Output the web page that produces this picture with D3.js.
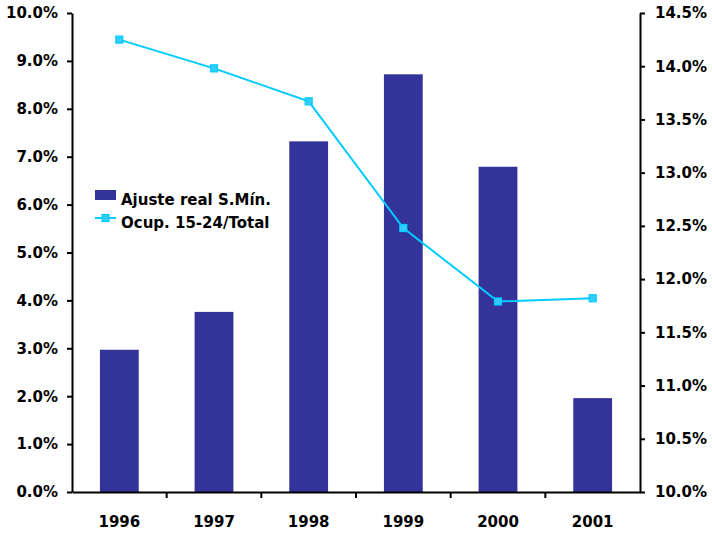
<!DOCTYPE html>
<html>
<head>
<meta charset="utf-8">
<script src="https://cdn.jsdelivr.net/npm/d3@7"></script>
<style>
  html, body { margin: 0; padding: 0; background: #fff; }
  svg text { font-family: "DejaVu Sans", Verdana, sans-serif; font-weight: bold; fill: #000; }
</style>
</head>
<body>
<svg id="chart" width="712" height="534"></svg>
<script>
// Years on the horizontal axis
const years = ["1996", "1997", "1998", "1999", "2000", "2001"];
// Real minimum-wage adjustment (%), left axis
const ajusteReal = [2.97, 3.76, 7.32, 8.72, 6.79, 1.96];
// Employed aged 15-24 as share of total employment (%), right axis
const ocupJoven = [14.25, 13.98, 13.67, 12.48, 11.79, 11.82];
// Tick values
const leftTicks = [0, 1, 2, 3, 4, 5, 6, 7, 8, 9, 10];
const rightTicks = [10, 10.5, 11, 11.5, 12, 12.5, 13, 13.5, 14, 14.5];

const svg = d3.select("#chart");
const m = { left: 72, right: 640, top: 13, bottom: 492 };
const fs = 15;

const x = d3.scaleBand().domain(years).range([m.left, m.right]).paddingInner(0).paddingOuter(0);
const yL = d3.scaleLinear().domain([0, 10]).range([m.bottom, m.top]);
const yR = d3.scaleLinear().domain([10, 14.5]).range([m.bottom, m.top]);

const barColor = "#333399";
const lineColor = "#00CCFF";

// Bars
const barW = x.bandwidth() * 0.41;
svg.append("g").selectAll("rect")
  .data(years)
  .join("rect")
  .attr("x", (d) => x(d) + (x.bandwidth() - barW) / 2)
  .attr("y", (d, i) => yL(ajusteReal[i]))
  .attr("width", barW)
  .attr("height", (d, i) => yL(0) - yL(ajusteReal[i]))
  .attr("fill", barColor);

// Left axis
const axL = svg.append("g").attr("transform", `translate(${m.left},0)`)
  .call(d3.axisLeft(yL).tickValues(leftTicks).tickSize(5).tickSizeOuter(0)
    .tickFormat((d) => d.toFixed(1) + "%"));
// Right axis
const axR = svg.append("g").attr("transform", `translate(${m.right},0)`)
  .call(d3.axisRight(yR).tickValues(rightTicks).tickSize(5).tickSizeOuter(0)
    .tickFormat((d) => d.toFixed(1) + "%"));
// Bottom axis: ticks sit on category boundaries
const axB = svg.append("g").attr("transform", `translate(0,${m.bottom})`)
  .call(d3.axisBottom(x).tickSize(0).tickPadding(24));
axB.selectAll(".tick")
  .filter((d, i) => i < years.length - 1)
  .append("line")
  .attr("x1", x.bandwidth() / 2).attr("x2", x.bandwidth() / 2)
  .attr("y1", 0).attr("y2", 6);

[axL, axR, axB].forEach((g) => {
  g.selectAll(".domain").attr("stroke", "#000").attr("stroke-width", 2);
  g.selectAll(".tick line").attr("stroke", "#000").attr("stroke-width", 2);
  g.selectAll("text").attr("font-size", fs).style("font-weight", "bold");
});
axL.selectAll("text").attr("x", -14);
axR.selectAll("text").attr("x", 15);

// Line series
const line = d3.line()
  .x((d, i) => x(years[i]) + x.bandwidth() / 2)
  .y((d) => yR(d));
svg.append("path").datum(ocupJoven)
  .attr("d", line).attr("fill", "none")
  .attr("stroke", lineColor).attr("stroke-width", 2);
svg.append("g").selectAll("rect")
  .data(ocupJoven)
  .join("rect")
  .attr("x", (d, i) => x(years[i]) + x.bandwidth() / 2 - 3.5)
  .attr("y", (d) => yR(d) - 3.5)
  .attr("width", 7).attr("height", 7)
  .attr("fill", "#33CCFF").attr("stroke", lineColor).attr("stroke-width", 1.2);

// Legend
const lg = svg.append("g").attr("transform", "translate(95,0)");
lg.append("rect").attr("x", 0).attr("y", 190).attr("width", 21).attr("height", 10).attr("fill", barColor);
lg.append("text").attr("x", 26).attr("y", 205).attr("font-size", fs).text("Ajuste real S.Mín.");
lg.append("line").attr("x1", 0).attr("x2", 21).attr("y1", 218).attr("y2", 218)
  .attr("stroke", lineColor).attr("stroke-width", 2);
lg.append("rect").attr("x", 7).attr("y", 214.5).attr("width", 7).attr("height", 7)
  .attr("fill", "#33CCFF").attr("stroke", lineColor).attr("stroke-width", 1.2);
lg.append("text").attr("x", 26).attr("y", 228).attr("font-size", fs).text("Ocup. 15-24/Total");
</script>
</body>
</html>
